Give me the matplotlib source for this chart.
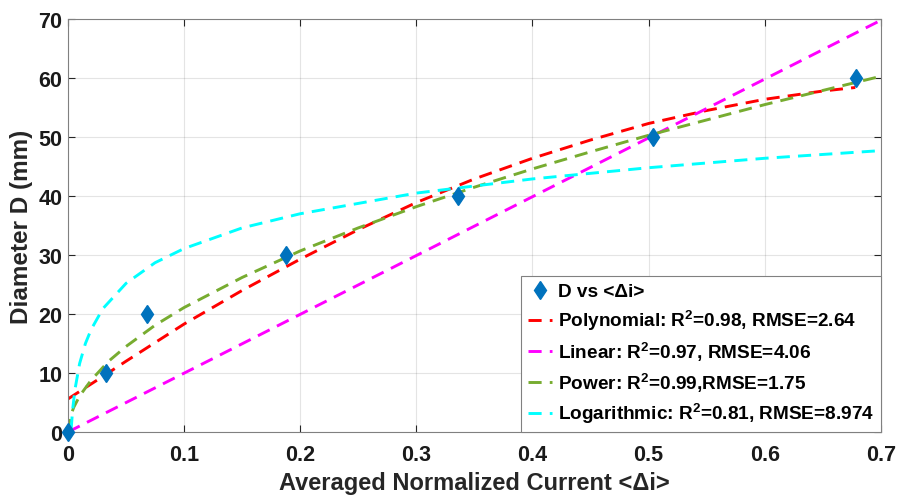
import numpy as np
import matplotlib
matplotlib.use("Agg")
import matplotlib.pyplot as plt

plt.rcParams['font.family'] = ['Liberation Sans', 'DejaVu Sans']
plt.rcParams['font.weight'] = 'bold'
plt.rcParams['mathtext.fontset'] = 'custom'
plt.rcParams['mathtext.rm'] = 'Liberation Sans:bold'
plt.rcParams['mathtext.bf'] = 'Liberation Sans:bold'
plt.rcParams['mathtext.default'] = 'bf'

# measured points
x_data = [0.0, 0.0325, 0.0678, 0.188, 0.336, 0.504, 0.6785]
d_data = [0, 10, 20, 30, 40, 50, 60]

# fitted curves
x_poly = [0.0, 0.033, 0.05, 0.1, 0.15, 0.2, 0.25, 0.3, 0.35, 0.4, 0.45,
          0.5, 0.55, 0.6, 0.65, 0.678]
y_poly = [5.6, 9.8, 12.0, 18.3, 24.0, 29.3, 34.3, 38.9, 42.9, 46.4, 49.5,
          52.3, 54.5, 56.4, 57.8, 58.4]

x_lin = [0.0, 0.7]
y_lin = [0.0, 69.8]

x_pow = [0.0, 0.002, 0.005, 0.01, 0.02, 0.035, 0.05, 0.075, 0.1, 0.15, 0.2,
         0.25, 0.3, 0.35, 0.4, 0.45, 0.5, 0.55, 0.6, 0.65, 0.7]
y_pow = [0.0, 2.6, 4.2, 6.1, 8.8, 12.0, 14.5, 18.1, 21.1, 26.2, 30.7,
         34.6, 38.2, 41.5, 44.6, 47.5, 50.3, 52.9, 55.5, 57.9, 60.3]

x_log = [0.0027, 0.004, 0.006, 0.01, 0.015, 0.02, 0.03, 0.05, 0.075, 0.1,
         0.15, 0.2, 0.3, 0.4, 0.5, 0.6, 0.7]
y_log = [0.4, 3.8, 7.2, 11.6, 15.0, 17.4, 20.9, 25.2, 28.7, 31.1,
         34.6, 37.0, 40.5, 42.9, 44.8, 46.4, 47.7]

labels = ['D vs <Δi>',
          'Polynomial: R$^{2}$=0.98, RMSE=2.64',
          'Linear: R$^{2}$=0.97, RMSE=4.06',
          'Power: R$^{2}$=0.99,RMSE=1.75',
          'Logarithmic: R$^{2}$=0.81, RMSE=8.974']

fig = plt.figure(figsize=(8.97, 5.02), dpi=100)
ax = fig.add_axes([0.0758, 0.1375, 0.9062, 0.8225])

dash = (4.5, 2.8)
ax.plot(x_data, d_data, 'd', color='#0072BD', markersize=9.5, label=labels[0],
        zorder=3, clip_on=False)
ax.plot(x_poly, y_poly, '--', color='#FF0000', lw=2.1, dashes=dash, label=labels[1])
ax.plot(x_lin, y_lin, '--', color='#FF00FF', lw=2.1, dashes=dash, label=labels[2])
ax.plot(x_pow, y_pow, '--', color='#77AC30', lw=2.1, dashes=dash, label=labels[3])
ax.plot(x_log, y_log, '--', color='#00FFFF', lw=2.1, dashes=dash, label=labels[4])

ax.set_xlim(0, 0.7)
ax.set_ylim(0, 70)
ax.set_xticks(np.arange(0, 0.71, 0.1))
ax.set_xticklabels(['0', '0.1', '0.2', '0.3', '0.4', '0.5', '0.6', '0.7'])
ax.set_yticks(np.arange(0, 71, 10))
ax.grid(True, color='#262626', alpha=0.12, lw=0.8)
ax.tick_params(direction='in', top=True, right=True, length=5, width=0.8,
               labelsize=15.5, colors='#262626', labelcolor='#1a1a1a')
ax.tick_params(axis='x', pad=9)
ax.tick_params(axis='y', pad=4)
for s in ax.spines.values():
    s.set_color('#808080')
    s.set_linewidth(0.8)

ax.set_xlabel('Averaged Normalized Current <Δi>', fontsize=17, fontweight='bold',
              color='#262626', labelpad=4)
ax.set_ylabel('Diameter D (mm)', fontsize=17.5, fontweight='bold',
              color='#262626', labelpad=4)

leg = ax.legend(loc='lower right', borderaxespad=0, fontsize=13.7, handlelength=1.3,
                handletextpad=0.3, labelspacing=0.4, borderpad=0.35,
                fancybox=False, edgecolor='#808080', framealpha=1)
leg.get_frame().set_linewidth(0.8)

fig.savefig('out.png', dpi=100)
